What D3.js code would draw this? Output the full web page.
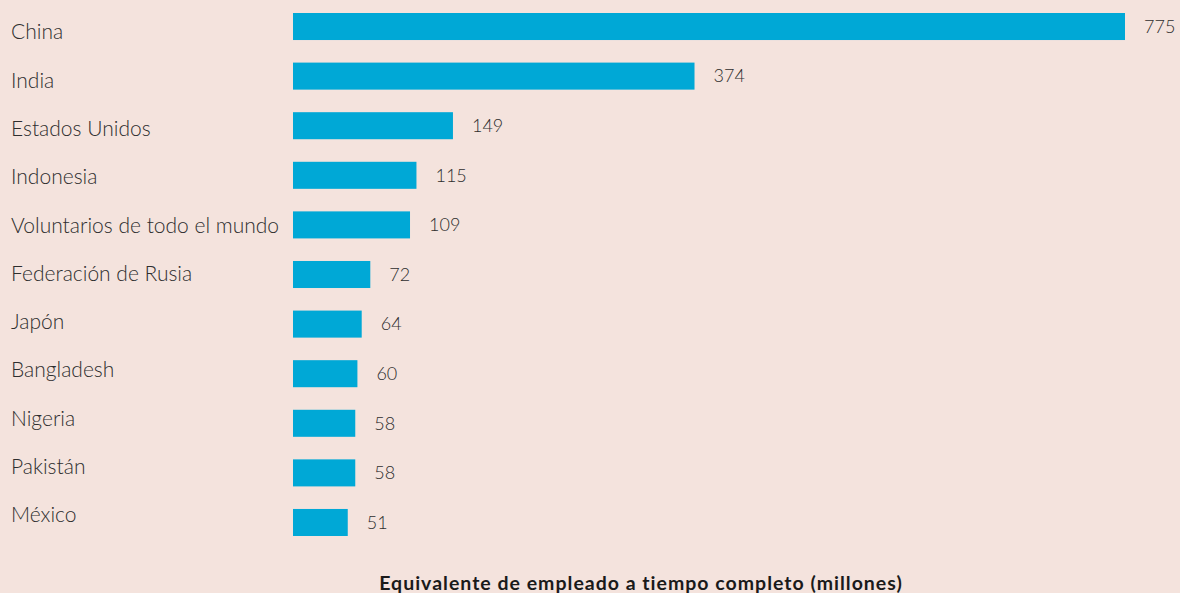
<!DOCTYPE html>
<html lang="es">
<head>
    <meta charset="UTF-8">
    <title>Equivalente de empleado a tiempo completo</title>
    <style>
        body { margin: 0; background: #f4e3dd; }
        svg { display: block; font-family: Lato, "Open Sans", sans-serif; }
        .cat { font-size: 21px; font-weight: 300; fill: #2e2e2e; }
        .val { font-size: 18px; font-weight: 300; fill: #2e2e2e; }
        .x.label { font-size: 19.5px; font-weight: 700; fill: #1a1a1a; letter-spacing: 1px; }
    </style>
</head>
<body>

<svg height="593" width="1180"></svg>

<script src="https://d3js.org/d3.v7.min.js"></script>
<script>

    var countries = ["China", "India", "Estados Unidos", "Indonesia", "Voluntarios de todo el mundo",
        "Federación de Rusia", "Japón", "Bangladesh", "Nigeria", "Pakistán", "México"];
    var employees = [775, 374, 149, 115, 109, 72, 64, 60, 58, 58, 51];
    var axisTitle = "Equivalente de empleado a tiempo completo (millones)";

    var svg = d3.select("svg");
    var barLeft = 293;

    var valueToWidth = d3.scaleLinear().domain([0, 775]).range([0, 832]);

    // bars and the country labels sit on slightly different grids
    var barBand = d3.scaleBand().domain(countries).range([13, 536]).paddingInner(0.455).paddingOuter(0);
    var labelPos = d3.scalePoint().domain(countries).range([32, 515]);

    var rows = countries.map(function(c, i) { return {name: c, value: employees[i]}; });

    svg.selectAll(".bar")
        .data(rows)
        .enter()
        .append("rect")
        .attr("class", "bar")
        .attr("x", barLeft)
        .attr("y", function(d) { return barBand(d.name); })
        .attr("width", function(d) { return valueToWidth(d.value); })
        .attr("height", barBand.bandwidth())
        .attr("fill", "#00a8d6");

    svg.selectAll(".val")
        .data(rows)
        .enter()
        .append("text")
        .attr("class", "val")
        .attr("x", function(d) { return barLeft + valueToWidth(d.value) + 19; })
        .attr("y", function(d) { return barBand(d.name) + barBand.bandwidth() / 2; })
        .attr("dy", "0.35em")
        .text(function(d) { return d.value; });

    svg.selectAll(".cat")
        .data(rows)
        .enter()
        .append("text")
        .attr("class", "cat")
        .attr("x", 11)
        .attr("y", function(d) { return labelPos(d.name); })
        .attr("dy", "0.35em")
        .text(function(d) { return d.name; });

    svg.append("text")
        .attr("class", "x label")
        .attr("text-anchor", "middle")
        .attr("x", 641)
        .attr("y", 590)
        .text(axisTitle);

</script>
</body>
</html>
